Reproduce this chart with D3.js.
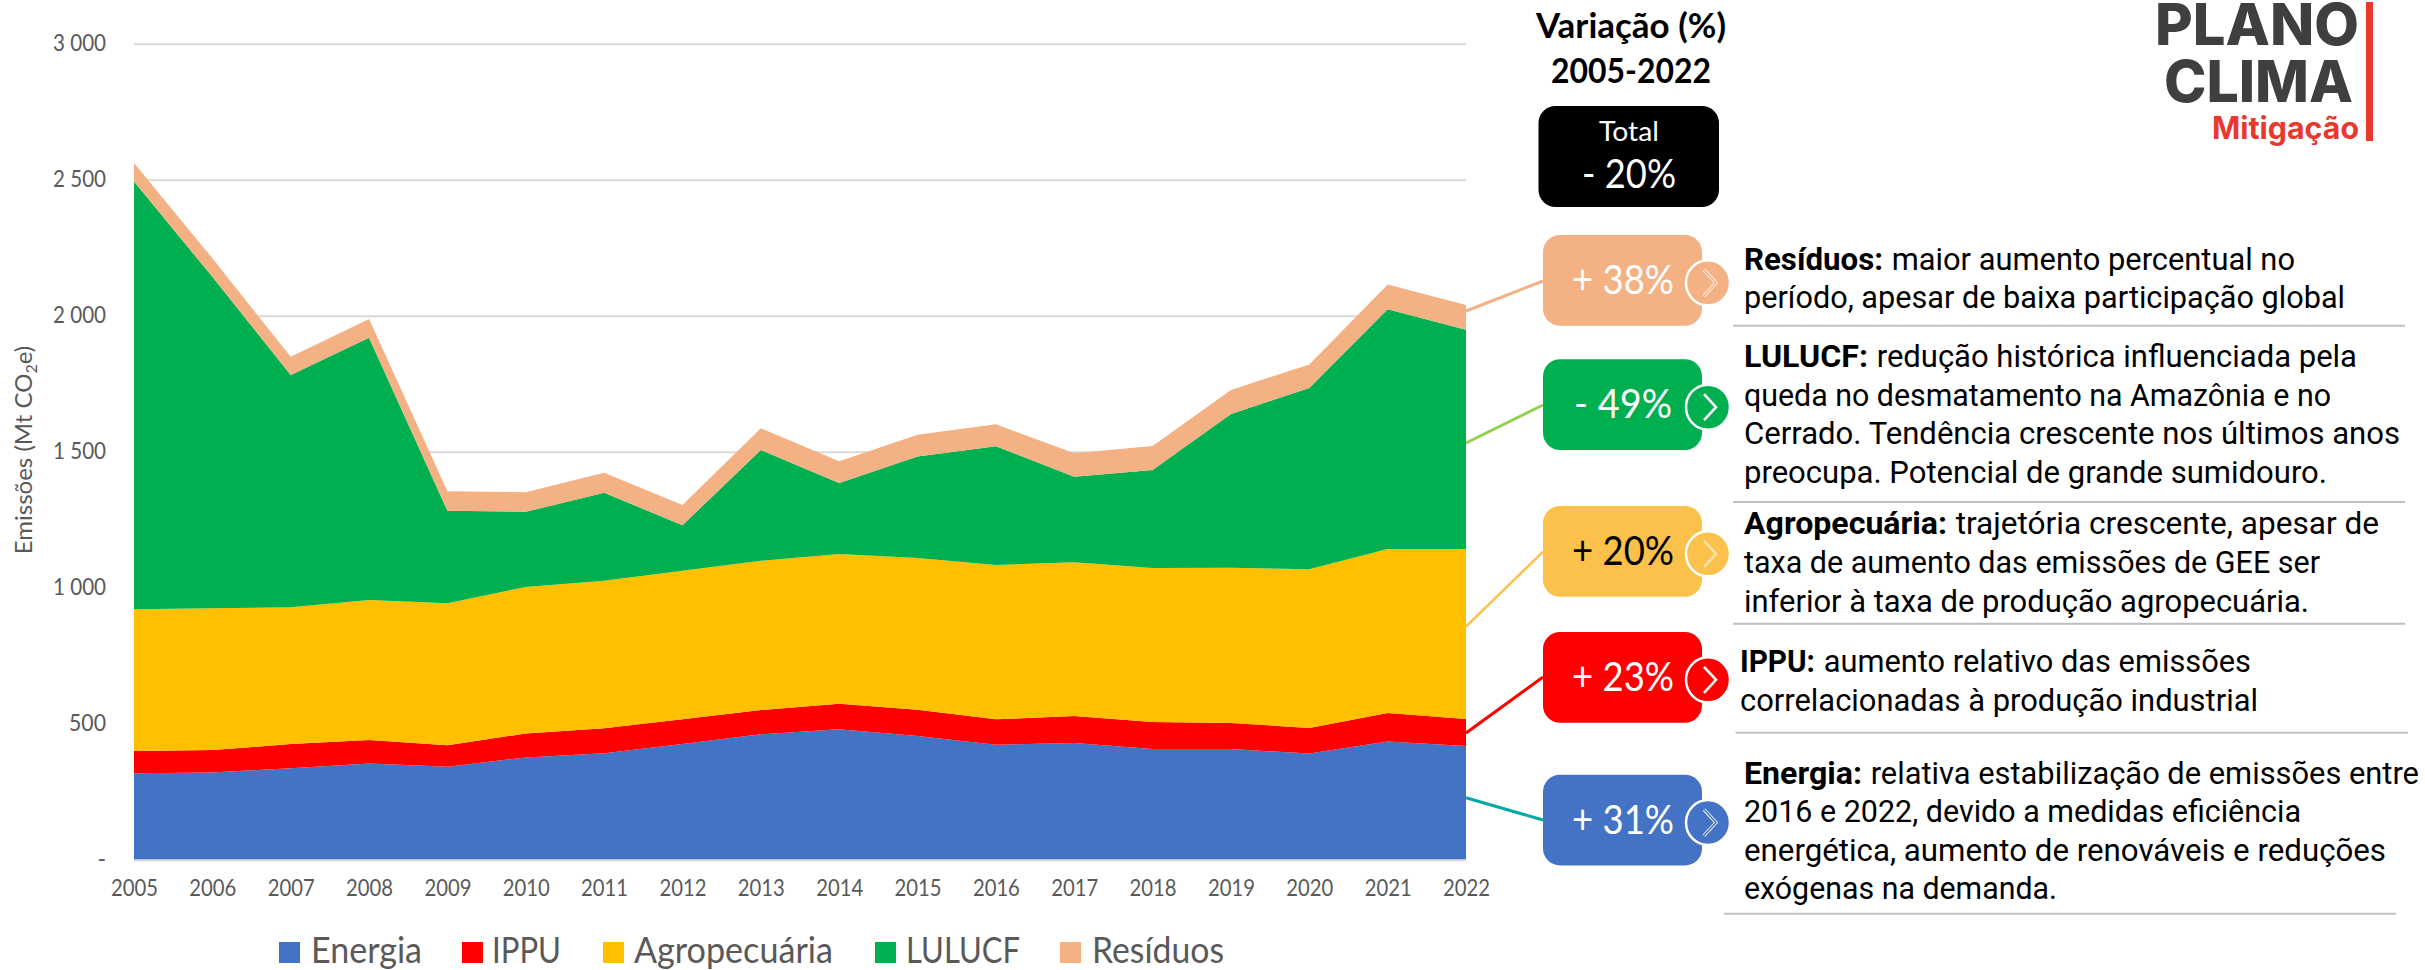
<!DOCTYPE html>
<html lang="pt">
<head>
<meta charset="utf-8">
<title>Emissões 2005-2022</title>
<script src="https://cdn.jsdelivr.net/npm/d3@7"></script>
<style>
html,body{margin:0;padding:0;background:#fff;}
svg{display:block;}
text{font-family:Lato,sans-serif;}
</style>
</head>
<body>
<div id="chart"></div>
<script>
// ---- Data -----------------------------------------------------------------
const years = [2005,2006,2007,2008,2009,2010,2011,2012,2013,2014,2015,2016,2017,2018,2019,2020,2021,2022];
const energia = [318,321,336,354,342,376,391,425,461,480,455,423,429,407,407,390,435,418];
const ippu = [82,82,89,86,79,88,92,91,89,93,96,93,99,99,96,94,104,99];
const agropecuaria = [521,521,503,515,522,539,543,546,549,551,558,567,566,566,570,584,603,625];
const lulucf = [1572,1219,854,964,340,276,323,168,407,261,373,437,314,361,566,666,882,806];
const residuos = [68,68,67,69,72,72,74,74,80,80,80,81,86,88,88,87,91,91];
const yTicks = [0,500,1000,1500,2000,2500,3000];
const seriesNames = ["Energia","IPPU","Agropecuária","LULUCF","Resíduos"];
const seriesColors = ["#4472c4","#ff0000","#ffc000","#00b050","#f4b183"];
const variationLabels = ["+ 31%","+ 23%","+ 20%","- 49%","+ 38%"];

const W = 2425, H = 970;
const svg = d3.select("#chart").append("svg").attr("width",W).attr("height",H).attr("viewBox",`0 0 ${W} ${H}`);

// fits a text element to a measured width from the reference
function fit(sel,w){ return sel.attr("textLength",w).attr("lengthAdjust","spacingAndGlyphs"); }

// ---- Scales ---------------------------------------------------------------
const x = d3.scalePoint().domain(years).range([134,1466]);
const y = d3.scaleLinear().domain([0,3000]).range([859.7,43.7]);
const GREY = "#595959";

// ---- Y axis + grid --------------------------------------------------------
const fmt = v => v===0 ? "-" : d3.format(",")(v).replace(","," ");
const yAxis = svg.append("g").attr("transform","translate(134,0)")
  .call(d3.axisLeft(y).tickValues(yTicks).tickFormat(fmt).tickSize(-1332).tickPadding(28));
yAxis.select(".domain").remove();
yAxis.selectAll(".tick line").attr("stroke","#d9d9d9").attr("stroke-width",2);
yAxis.selectAll(".tick text").attr("fill",GREY).style("font-size","23px").style("font-family","Lato,sans-serif")
  .attr("dy","0.28em")
  .each(function(d){ if(d===500) d3.select(this).attr("textLength",37).attr("lengthAdjust","spacingAndGlyphs");
                     else if(d>500) d3.select(this).attr("textLength",53).attr("lengthAdjust","spacingAndGlyphs"); });

// ---- Stacked areas --------------------------------------------------------
const rows = years.map((yr,i)=>({year:yr,Energia:energia[i],IPPU:ippu[i],"Agropecuária":agropecuaria[i],LULUCF:lulucf[i],"Resíduos":residuos[i]}));
const stacked = d3.stack().keys(seriesNames)(rows);
const area = d3.area().x(d=>x(d.data.year)).y0(d=>y(d[0])).y1(d=>y(d[1]));
svg.append("g").selectAll("path").data(stacked).join("path")
  .attr("d",area).attr("fill",(d,i)=>seriesColors[i]);

// ---- X axis ---------------------------------------------------------------
const xAxis = svg.append("g").attr("transform","translate(0,859.7)")
  .call(d3.axisBottom(x).tickSize(0).tickPadding(20));
xAxis.select(".domain").attr("stroke","#d9d9d9").attr("stroke-width",2);
xAxis.selectAll(".tick text").attr("fill",GREY).style("font-size","23px").style("font-family","Lato,sans-serif")
  .attr("textLength",47).attr("lengthAdjust","spacingAndGlyphs");

// ---- Y title --------------------------------------------------------------
const yTitle = svg.append("text").attr("transform","translate(32,450) rotate(-90)")
  .attr("text-anchor","middle").attr("fill",GREY).style("font-size","24px");
yTitle.append("tspan").text("Emissões (Mt CO");
yTitle.append("tspan").text("2").style("font-size","16px").attr("dy",5);
yTitle.append("tspan").text("e)").attr("dy",-5);

// ---- Legend ---------------------------------------------------------------
const legendLayout = [[279,311,111],[462,492,69],[603,634,199],[875,906,114],[1060,1092,132]];
const leg = svg.append("g");
seriesNames.forEach((n,i)=>{
  const [sx,tx,tw]=legendLayout[i];
  leg.append("rect").attr("x",sx).attr("y",942).attr("width",21).attr("height",21).attr("fill",seriesColors[i]);
  fit(leg.append("text").attr("x",tx).attr("y",963).attr("fill",GREY).style("font-size","36px").text(n),tw);
});

// ---- Connectors -----------------------------------------------------------
const connectors = [
  {c:"#00a9a5",w:3,a:[1466,797.7],b:[1543,820]},
  {c:"#ff0000",w:3,a:[1466,733],b:[1543,677]},
  {c:"#fbc14a",w:2.5,a:[1466,626.7],b:[1543,551.7]},
  {c:"#92d050",w:3,a:[1466,443],b:[1543,405]},
  {c:"#f4b183",w:3,a:[1466,311],b:[1543,281]}
];
svg.append("g").selectAll("line").data(connectors).join("line")
  .attr("x1",d=>d.a[0]).attr("y1",d=>d.a[1]).attr("x2",d=>d.b[0]).attr("y2",d=>d.b[1])
  .attr("stroke",d=>d.c).attr("stroke-width",d=>d.w);

// ---- Header & total box ---------------------------------------------------
fit(svg.append("text").attr("x",1631).attr("y",38).attr("text-anchor","middle").attr("fill","#000")
  .style("font-size","35px").style("font-weight",700).text("Variação (%)"),190);
fit(svg.append("text").attr("x",1631).attr("y",83).attr("text-anchor","middle").attr("fill","#000")
  .style("font-size","35px").style("font-weight",700).text("2005-2022"),160);
svg.append("rect").attr("x",1538.5).attr("y",106).attr("width",180.5).attr("height",101).attr("rx",17).attr("fill","#000");
fit(svg.append("text").attr("x",1629).attr("y",141).attr("text-anchor","middle").attr("fill","#fff")
  .style("font-size","27px").text("Total"),60);
fit(svg.append("text").attr("x",1629).attr("y",188).attr("text-anchor","middle").attr("fill","#fff")
  .style("font-size","40px").text("- 20%"),94);

// ---- Variation boxes ------------------------------------------------------
const boxLayout = [
  {top:774.7,fill:"#4472c4",ink:"#fff",hollow:true,chev:"#fff"},
  {top:632,fill:"#ff0000",ink:"#fff",hollow:false,chev:"#fff"},
  {top:506,fill:"#fbc14a",ink:"#000",hollow:false,chev:"#fde2a8"},
  {top:359.3,fill:"#00b050",ink:"#fff",hollow:false,chev:"#fff"},
  {top:235,fill:"#f4b183",ink:"#fff",hollow:true,chev:"#fff"}
];
const bh = 90.7;
boxLayout.forEach((b,i)=>{
  const g = svg.append("g");
  g.append("rect").attr("x",1543).attr("y",b.top).attr("width",159).attr("height",bh).attr("rx",17).attr("fill",b.fill);
  fit(g.append("text").attr("x",1623).attr("y",b.top+59).attr("text-anchor","middle").attr("fill",b.ink)
    .style("font-size","40px").text(variationLabels[i]),i===3?98:102);
  const cy = b.top+bh/2+2.5;
  g.append("ellipse").attr("cx",1708).attr("cy",cy).attr("rx",22).attr("ry",22.5)
    .attr("fill",b.fill).attr("stroke","#fff").attr("stroke-width",2.5);
  const chevron = d3.line()([[1704,cy-13],[1716,cy],[1704,cy+13]]);
  if(b.hollow){
    g.append("path").attr("d",chevron).attr("fill","none").attr("stroke",b.chev).attr("stroke-width",3.2);
    g.append("path").attr("d",chevron).attr("fill","none").attr("stroke",b.fill).attr("stroke-width",1.6);
  } else {
    g.append("path").attr("d",chevron).attr("fill","none").attr("stroke",b.chev).attr("stroke-width",2.6);
  }
});

// ---- Notes ----------------------------------------------------------------
const notes = [
 {x:1744,bold:"Resíduos:",bw:139,rule:[1733,2405,325.7],lines:[
   ["maior aumento percentual no",270,551],
   ["período, apesar de baixa participação global",308,601]]},
 {x:1744,bold:"LULUCF:",bw:124,rule:[1733,2405,502],lines:[
   ["redução histórica influenciada pela",366.7,613],
   ["queda no desmatamento na Amazônia e no",406,587],
   ["Cerrado. Tendência crescente nos últimos anos",444.3,656],
   ["preocupa. Potencial de grande sumidouro.",483,583]]},
 {x:1744,bold:"Agropecuária:",bw:203,rule:[1733,2405,623.7],lines:[
   ["trajetória crescente, apesar de",534,635],
   ["taxa de aumento das emissões de GEE ser",573.3,576],
   ["inferior à taxa de produção agropecuária.",611.7,565]]},
 {x:1740,bold:"IPPU:",bw:75,rule:[1735.6,2408,732.7],lines:[
   ["aumento relativo das emissões",671.7,511],
   ["correlacionadas à produção industrial",710.7,518]]},
 {x:1744,bold:"Energia:",bw:118,rule:[1724,2396,913.7],lines:[
   ["relativa estabilização de emissões entre",784,675],
   ["2016 e 2022, devido a medidas eficiência",822.3,557],
   ["energética, aumento de renováveis e reduções",860.7,642],
   ["exógenas na demanda.",899.3,313]]}
];
const NF = "Roboto,sans-serif", FS = "31px";
const ng = svg.append("g");
notes.forEach(n=>{
  n.lines.forEach((l,i)=>{
    if(i===0){
      fit(ng.append("text").attr("x",n.x).attr("y",l[1]).attr("fill","#000").style("font-family",NF)
        .style("font-size",FS).style("font-weight",700).text(n.bold),n.bw);
      const sx = n.bw+8.7;
      fit(ng.append("text").attr("x",n.x+sx).attr("y",l[1]).attr("fill","#000").style("font-family",NF)
        .style("font-size",FS).text(l[0]),l[2]-sx);
    } else {
      fit(ng.append("text").attr("x",n.x).attr("y",l[1]).attr("fill","#000").style("font-family",NF)
        .style("font-size",FS).text(l[0]),l[2]);
    }
  });
  ng.append("line").attr("x1",n.rule[0]).attr("x2",n.rule[1]).attr("y1",n.rule[2]).attr("y2",n.rule[2])
    .attr("stroke","#bfbfbf").attr("stroke-width",2);
});

// ---- Logo -----------------------------------------------------------------
const LOGO = "Inter,Roboto,sans-serif";
fit(svg.append("text").attr("x",2155).attr("y",45).attr("fill","#3f3f3f").style("font-family",LOGO)
  .style("font-size","58px").style("font-weight",800).text("PLANO"),204);
fit(svg.append("text").attr("x",2164).attr("y",102).attr("fill","#3f3f3f").style("font-family",LOGO)
  .style("font-size","58px").style("font-weight",800).text("CLIMA"),189);
fit(svg.append("text").attr("x",2212).attr("y",139).attr("fill","#e8392f").style("font-family",LOGO)
  .style("font-size","31px").style("font-weight",700).text("Mitigação"),147);
svg.append("rect").attr("x",2366).attr("y",2).attr("width",7).attr("height",139).attr("fill","#e8392f");
</script>
</body>
</html>
